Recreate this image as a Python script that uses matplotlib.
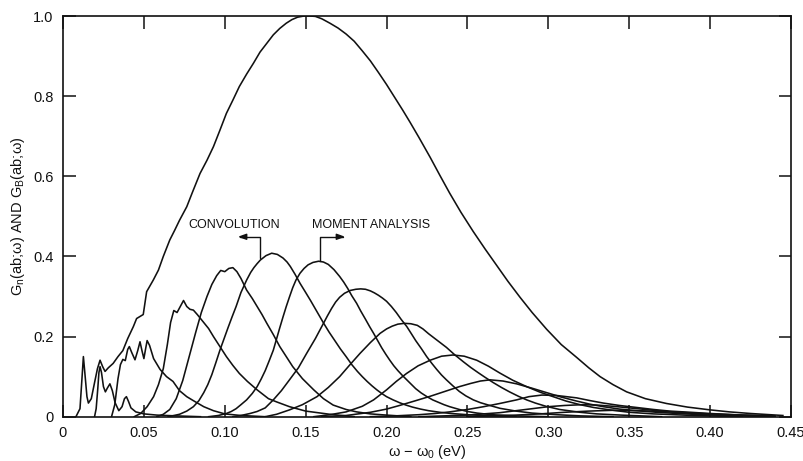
import matplotlib
matplotlib.use("Agg")
import matplotlib.pyplot as plt

plt.rcParams["font.family"] = ["Liberation Sans", "DejaVu Sans"]
plt.rcParams["mathtext.default"] = "regular"

# total band shape G_B(ab; w)
band_x = [0.008, 0.0105, 0.0118, 0.0126, 0.0136, 0.0148, 0.0157, 0.0175, 0.0195, 0.0213,
          0.0229, 0.0245, 0.026, 0.028, 0.031, 0.034, 0.037, 0.040, 0.0435, 0.0455,
          0.0496, 0.0517, 0.0558, 0.059, 0.062, 0.066, 0.069, 0.072, 0.0765, 0.080,
          0.0847, 0.089, 0.093, 0.097, 0.101, 0.105, 0.109, 0.1135, 0.1177, 0.1218,
          0.126, 0.130, 0.134, 0.138, 0.1415, 0.145, 0.149, 0.1527, 0.156, 0.160,
          0.165, 0.170, 0.175, 0.180, 0.185, 0.190, 0.195, 0.200, 0.205, 0.210,
          0.2145, 0.220, 0.227, 0.233, 0.239, 0.246, 0.2536, 0.261, 0.268, 0.275,
          0.2825, 0.290, 0.299, 0.308, 0.3175, 0.325, 0.332, 0.340, 0.3484, 0.360,
          0.373, 0.386, 0.400, 0.412, 0.425, 0.445]
band_y = [0.0, 0.02, 0.10, 0.15, 0.105, 0.05, 0.034, 0.045, 0.085, 0.12,
          0.141, 0.125, 0.113, 0.122, 0.133, 0.15, 0.165, 0.195, 0.225, 0.245,
          0.255, 0.312, 0.341, 0.366, 0.40, 0.441, 0.465, 0.49, 0.524, 0.56,
          0.607, 0.64, 0.674, 0.715, 0.757, 0.79, 0.824, 0.855, 0.882, 0.91,
          0.932, 0.953, 0.969, 0.982, 0.991, 0.997, 1.0, 1.0, 0.999, 0.993,
          0.982, 0.97, 0.955, 0.937, 0.913, 0.888, 0.859, 0.829, 0.797, 0.765,
          0.735, 0.697, 0.647, 0.602, 0.558, 0.51, 0.462, 0.418, 0.378, 0.338,
          0.298, 0.26, 0.218, 0.18, 0.148, 0.122, 0.10, 0.08, 0.062, 0.045,
          0.033, 0.024, 0.017, 0.012, 0.008, 0.003]

# partial functions G_n(ab; w): convolution results on the left, moment analysis on the right
g2_x = [0.0195, 0.0205, 0.0215, 0.0222, 0.0229, 0.0238, 0.025, 0.0262, 0.0275, 0.029,
        0.0305, 0.0322, 0.0345, 0.0365, 0.038, 0.0392, 0.0405, 0.042, 0.045, 0.05,
        0.058, 0.07, 0.085]
g2_y = [0.0, 0.02, 0.07, 0.11, 0.125, 0.11, 0.075, 0.062, 0.072, 0.082,
        0.065, 0.035, 0.015, 0.025, 0.045, 0.05, 0.038, 0.022, 0.012, 0.007,
        0.004, 0.002, 0.0]

g3_x = [0.030, 0.032, 0.034, 0.0355, 0.037, 0.0385, 0.040, 0.041, 0.0425, 0.0445,
        0.0462, 0.0476, 0.0488, 0.050, 0.051, 0.052, 0.0535, 0.056, 0.060, 0.064,
        0.068, 0.072, 0.0765, 0.0806, 0.087, 0.093, 0.100, 0.110, 0.125]
g3_y = [0.0, 0.03, 0.095, 0.13, 0.143, 0.14, 0.168, 0.175, 0.16, 0.142,
        0.165, 0.187, 0.165, 0.145, 0.168, 0.19, 0.178, 0.145, 0.118, 0.100,
        0.088, 0.065, 0.05, 0.040, 0.025, 0.015, 0.007, 0.003, 0.0]

g4_x = [0.044, 0.048, 0.052, 0.056, 0.059, 0.062, 0.0645, 0.0665, 0.0685, 0.0705,
        0.0725, 0.0745, 0.0765, 0.0785, 0.0806, 0.083, 0.086, 0.090, 0.093, 0.097,
        0.101, 0.105, 0.109, 0.114, 0.120, 0.127, 0.132, 0.140, 0.150, 0.165, 0.180]
g4_y = [0.0, 0.008, 0.025, 0.05, 0.08, 0.12, 0.18, 0.235, 0.265, 0.26,
        0.275, 0.29, 0.275, 0.268, 0.266, 0.255, 0.24, 0.22, 0.2, 0.175,
        0.15, 0.128, 0.108, 0.088, 0.067, 0.045, 0.037, 0.025, 0.014, 0.006, 0.0]

g5_x = [0.058, 0.062, 0.066, 0.070, 0.074, 0.078, 0.082, 0.0855, 0.089, 0.092,
        0.095, 0.0975, 0.100, 0.1025, 0.105, 0.1075, 0.110, 0.1135, 0.117, 0.120,
        0.123, 0.126, 0.130, 0.134, 0.138, 0.142, 0.148, 0.155, 0.161, 0.167,
        0.175, 0.1815, 0.190, 0.200, 0.215]
g5_y = [0.0, 0.006, 0.018, 0.045, 0.09, 0.15, 0.21, 0.26, 0.30, 0.33,
        0.352, 0.365, 0.362, 0.37, 0.372, 0.362, 0.345, 0.316, 0.295, 0.275,
        0.255, 0.233, 0.205, 0.175, 0.15, 0.125, 0.095, 0.067, 0.045, 0.029,
        0.018, 0.012, 0.007, 0.004, 0.0]

g6_x = [0.065, 0.072, 0.0765, 0.0806, 0.084, 0.087, 0.0895, 0.092, 0.0945, 0.097,
        0.0995, 0.102, 0.1045, 0.107, 0.110, 0.1135, 0.116, 0.118, 0.120, 0.122,
        0.1255, 0.129, 0.1325, 0.136, 0.1385, 0.1405, 0.1435, 0.1465, 0.150, 0.153,
        0.157, 0.161, 0.1645, 0.168, 0.1715, 0.175, 0.1785, 0.182, 0.185, 0.188,
        0.191, 0.194, 0.197, 0.200, 0.204, 0.208, 0.212, 0.216, 0.221, 0.226,
        0.233, 0.240, 0.250, 0.260, 0.280]
g6_y = [0.0, 0.006, 0.014, 0.025, 0.04, 0.06, 0.08, 0.105, 0.135, 0.166,
        0.194, 0.222, 0.249, 0.275, 0.31, 0.341, 0.36, 0.372, 0.382, 0.391,
        0.402, 0.408, 0.405, 0.396, 0.386, 0.375, 0.355, 0.333, 0.31, 0.29,
        0.262, 0.234, 0.211, 0.19, 0.169, 0.15, 0.13, 0.113, 0.10, 0.088,
        0.077, 0.067, 0.058, 0.05, 0.042, 0.035, 0.029, 0.024, 0.019, 0.015,
        0.011, 0.008, 0.005, 0.003, 0.0]

g7_x = [0.090, 0.096, 0.101, 0.104, 0.107, 0.110, 0.1135, 0.117, 0.120, 0.1225,
        0.125, 0.1275, 0.130, 0.132, 0.134, 0.136, 0.138, 0.140, 0.142, 0.144,
        0.1465, 0.149, 0.1515, 0.1545, 0.158, 0.161, 0.164, 0.1675, 0.171, 0.1735,
        0.176, 0.1785, 0.1815, 0.184, 0.187, 0.1895, 0.192, 0.1945, 0.197, 0.1995,
        0.202, 0.2045, 0.207, 0.210, 0.2125, 0.2155, 0.218, 0.2215, 0.225, 0.2285,
        0.232, 0.2355, 0.239, 0.245, 0.250, 0.256, 0.265, 0.280, 0.300]
g7_y = [0.0, 0.003, 0.008, 0.013, 0.02, 0.03, 0.042, 0.058, 0.075, 0.094,
        0.115, 0.14, 0.166, 0.194, 0.222, 0.249, 0.275, 0.299, 0.322, 0.341,
        0.358, 0.37, 0.379, 0.385, 0.388, 0.386, 0.38, 0.367, 0.35, 0.336,
        0.32, 0.302, 0.283, 0.264, 0.243, 0.225, 0.208, 0.19, 0.172, 0.156,
        0.141, 0.127, 0.115, 0.102, 0.092, 0.08, 0.07, 0.059, 0.05, 0.042,
        0.036, 0.03, 0.025, 0.018, 0.013, 0.009, 0.005, 0.002, 0.0]

g8_x = [0.105, 0.110, 0.1156, 0.120, 0.125, 0.130, 0.135, 0.140, 0.1455, 0.1506,
        0.156, 0.161, 0.1635, 0.166, 0.1685, 0.171, 0.174, 0.1775, 0.181, 0.184,
        0.187, 0.190, 0.1925, 0.195, 0.1975, 0.200, 0.203, 0.206, 0.209, 0.2125,
        0.2155, 0.218, 0.2215, 0.2248, 0.228, 0.231, 0.234, 0.237, 0.241, 0.245,
        0.249, 0.2536, 0.258, 0.263, 0.270, 0.280, 0.290, 0.305, 0.320, 0.340]
g8_y = [0.0, 0.003, 0.008, 0.013, 0.022, 0.042, 0.065, 0.092, 0.122, 0.158,
        0.195, 0.233, 0.252, 0.27, 0.286, 0.298, 0.308, 0.315, 0.318, 0.319,
        0.318, 0.314, 0.309, 0.303, 0.296, 0.288, 0.275, 0.26, 0.243, 0.225,
        0.206, 0.19, 0.17, 0.15, 0.133, 0.118, 0.104, 0.092, 0.077, 0.063,
        0.052, 0.042, 0.035, 0.029, 0.021, 0.014, 0.009, 0.005, 0.002, 0.0]

g9_x = [0.125, 0.132, 0.140, 0.148, 0.157, 0.164, 0.171, 0.177, 0.1836, 0.190,
        0.196, 0.200, 0.2035, 0.207, 0.211, 0.215, 0.219, 0.2225, 0.226, 0.2315,
        0.237, 0.242, 0.2475, 0.252, 0.2566, 0.261, 0.266, 0.271, 0.276, 0.2815,
        0.2866, 0.292, 0.2985, 0.307, 0.3196, 0.330, 0.345, 0.370]
g9_y = [0.0, 0.006, 0.017, 0.03, 0.05, 0.073, 0.10, 0.128, 0.158, 0.185,
        0.208, 0.219, 0.226, 0.231, 0.233, 0.232, 0.228, 0.219, 0.207, 0.19,
        0.173, 0.155, 0.137, 0.123, 0.11, 0.098, 0.085, 0.073, 0.062, 0.051,
        0.042, 0.034, 0.026, 0.018, 0.011, 0.007, 0.004, 0.0]

g10_x = [0.155, 0.165, 0.175, 0.185, 0.192, 0.200, 0.206, 0.2124, 0.2195, 0.227,
         0.234, 0.241, 0.248, 0.2557, 0.263, 0.270, 0.278, 0.2866, 0.295, 0.303,
         0.311, 0.3196, 0.328, 0.338, 0.350, 0.365, 0.390, 0.420]
g10_y = [0.0, 0.005, 0.012, 0.026, 0.042, 0.067, 0.088, 0.108, 0.127, 0.141,
         0.151, 0.154, 0.151, 0.141, 0.126, 0.109, 0.091, 0.075, 0.061, 0.05,
         0.039, 0.03, 0.023, 0.017, 0.011, 0.007, 0.003, 0.0]

g11_x = [0.160, 0.175, 0.190, 0.200, 0.208, 0.218, 0.227, 0.236, 0.245, 0.252,
         0.258, 0.264, 0.272, 0.2804, 0.290, 0.299, 0.308, 0.3175, 0.326, 0.334,
         0.344, 0.3546, 0.367, 0.380, 0.395, 0.410, 0.440]
g11_y = [0.0, 0.003, 0.011, 0.019, 0.028, 0.04, 0.051, 0.063, 0.075, 0.083,
         0.089, 0.092, 0.089, 0.082, 0.071, 0.06, 0.049, 0.039, 0.031, 0.025,
         0.019, 0.015, 0.011, 0.008, 0.005, 0.003, 0.0]

g12_x = [0.190, 0.205, 0.220, 0.230, 0.239, 0.250, 0.260, 0.270, 0.2804, 0.288,
         0.296, 0.305, 0.3175, 0.326, 0.334, 0.344, 0.3546, 0.365, 0.375, 0.388,
         0.400, 0.420, 0.440]
g12_y = [0.0, 0.002, 0.005, 0.008, 0.012, 0.018, 0.025, 0.033, 0.042, 0.05,
         0.054, 0.053, 0.047, 0.04, 0.034, 0.028, 0.023, 0.018, 0.014, 0.011,
         0.008, 0.004, 0.002]

g13_x = [0.220, 0.235, 0.250, 0.260, 0.270, 0.280, 0.290, 0.300, 0.310, 0.321,
         0.330, 0.340, 0.350, 0.360, 0.370, 0.380, 0.390, 0.400, 0.420, 0.440]
g13_y = [0.0, 0.002, 0.004, 0.007, 0.01, 0.015, 0.02, 0.025, 0.028, 0.03,
         0.029, 0.026, 0.022, 0.018, 0.014, 0.011, 0.008, 0.006, 0.003, 0.001]

g14_x = [0.250, 0.265, 0.280, 0.295, 0.310, 0.325, 0.340, 0.355, 0.370, 0.385,
         0.400, 0.420, 0.440]
g14_y = [0.0, 0.002, 0.004, 0.007, 0.011, 0.014, 0.016, 0.015, 0.013, 0.01,
         0.007, 0.004, 0.002]

partials = [(g2_x, g2_y), (g3_x, g3_y), (g4_x, g4_y), (g5_x, g5_y), (g6_x, g6_y),
            (g7_x, g7_y), (g8_x, g8_y), (g9_x, g9_y), (g10_x, g10_y),
            (g11_x, g11_y), (g12_x, g12_y), (g13_x, g13_y), (g14_x, g14_y)]

x_ticks = [0, 0.05, 0.10, 0.15, 0.20, 0.25, 0.30, 0.35, 0.40, 0.45]
x_tick_labels = ["0", "0.05", "0.10", "0.15", "0.20", "0.25", "0.30", "0.35", "0.40", "0.45"]
y_ticks = [0, 0.2, 0.4, 0.6, 0.8, 1.0]
y_tick_labels = ["0", "0.2", "0.4", "0.6", "0.8", "1.0"]

ink = "#111111"

fig = plt.figure(figsize=(8.04, 4.61), dpi=100)
ax = fig.add_axes([63 / 804, 44.3 / 461, 728 / 804, 400.7 / 461])

ax.plot(band_x, band_y, color=ink, lw=1.15)
for xs, ys in partials:
    ax.plot(xs, ys, color=ink, lw=1.15)

ax.set_xlim(0, 0.45)
ax.set_ylim(0, 1.0)
ax.set_xticks(x_ticks)
ax.set_xticklabels(x_tick_labels)
ax.set_yticks(y_ticks)
ax.set_yticklabels(y_tick_labels)
ax.tick_params(direction="in", length=9, width=1.1, top=True, right=True,
               labelsize=10.5, colors=ink, pad=7)
for spine in ax.spines.values():
    spine.set_linewidth(1.2)
    spine.set_color(ink)

ax.set_xlabel(r"ω − ω$_0$ (eV)", fontsize=10.5, color=ink, labelpad=2)
ax.set_ylabel(r"G$_n$(ab;ω) AND G$_B$(ab;ω)", fontsize=10.5, color=ink, labelpad=4)

# labels with bracket arrows pointing to the two groups of curves
ax.text(0.1057, 0.478, "CONVOLUTION", fontsize=9, ha="center", va="center", color=ink)
ax.text(0.1907, 0.478, "MOMENT ANALYSIS", fontsize=9, ha="center", va="center", color=ink)
bracket = dict(arrowstyle="-|>,head_length=0.5,head_width=0.18", color=ink, lw=1.0,
               shrinkA=0, shrinkB=0, connectionstyle="angle,angleA=90,angleB=0,rad=0")
ax.annotate("", xy=(0.108, 0.449), xytext=(0.1218, 0.396), arrowprops=bracket)
ax.annotate("", xy=(0.1745, 0.449), xytext=(0.1589, 0.389), arrowprops=bracket)

fig.savefig("out.png", dpi=100)
